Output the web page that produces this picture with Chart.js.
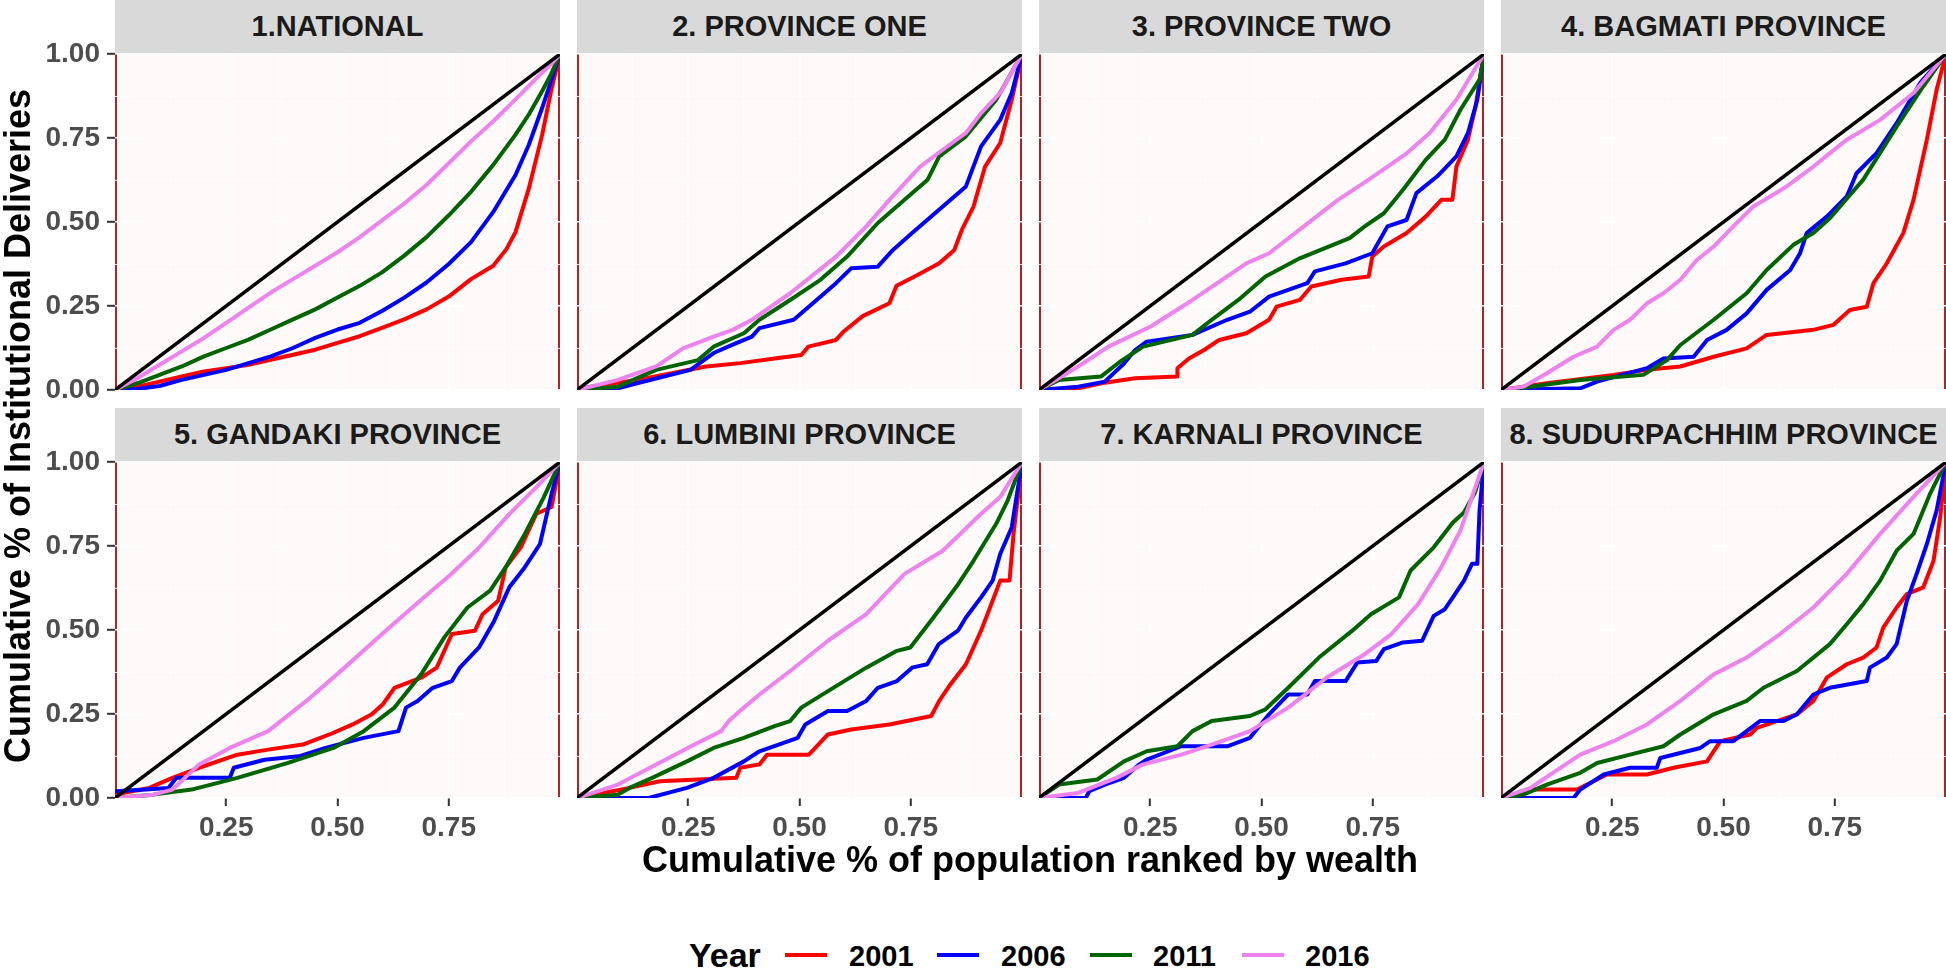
<!DOCTYPE html>
<html>
<head>
<meta charset="utf-8">
<title>Concentration curves of institutional deliveries</title>
<script src="https://cdn.jsdelivr.net/npm/chart.js@4.4.1/dist/chart.umd.min.js"></script>
<style>
html,body{margin:0;padding:0;background:#ffffff;}
body{position:relative;width:1946px;height:969px;overflow:hidden;font-family:"Liberation Sans",Arial,Helvetica,sans-serif;}
.strip{position:absolute;background:#D9D9D9;color:#1A1A1A;font-weight:bold;font-size:29px;line-height:29px;display:flex;align-items:center;justify-content:center;white-space:nowrap;}
canvas{position:absolute;}
.txt{position:absolute;font-weight:bold;color:#000;white-space:nowrap;}
.legline{position:absolute;height:4px;}
</style>
</head>
<body>
<script>
// ---------------- DATA ----------------
const panelTitles = ['1.NATIONAL','2. PROVINCE ONE','3. PROVINCE TWO','4. BAGMATI PROVINCE',
  '5. GANDAKI PROVINCE','6. LUMBINI PROVINCE','7. KARNALI PROVINCE','8. SUDURPACHHIM PROVINCE'];
const years = ['2001','2006','2011','2016'];
const yTickValues = [0, 0.25, 0.5, 0.75, 1];
const yTickLabels = ['0.00','0.25','0.50','0.75','1.00'];
const xTickValues = [0.25, 0.5, 0.75];
const xTickLabels = ['0.25','0.50','0.75'];
const equalityLine = [[0,0],[1,1]];

// [cumulative population share, cumulative share of institutional deliveries]
const national2001 = [[0,0],[0.05,0.01],[0.1,0.025],[0.15,0.04],[0.2,0.055],[0.25,0.065],[0.3,0.075],[0.35,0.09],[0.4,0.105],[0.45,0.12],[0.5,0.14],[0.55,0.16],[0.6,0.185],[0.65,0.21],[0.7,0.24],[0.75,0.278],[0.8,0.33],[0.85,0.37],[0.88,0.42],[0.9,0.47],[0.93,0.6],[0.96,0.76],[0.98,0.89],[1,1]];
const national2006 = [[0,0],[0.05,0.003],[0.1,0.012],[0.15,0.03],[0.2,0.045],[0.25,0.06],[0.3,0.08],[0.35,0.1],[0.4,0.125],[0.45,0.155],[0.5,0.18],[0.55,0.2],[0.6,0.235],[0.65,0.275],[0.7,0.32],[0.75,0.375],[0.8,0.44],[0.85,0.53],[0.9,0.64],[0.93,0.73],[0.96,0.84],[0.98,0.92],[1,1]];
const national2011 = [[0,0],[0.05,0.02],[0.1,0.045],[0.15,0.07],[0.2,0.1],[0.25,0.125],[0.3,0.15],[0.35,0.18],[0.4,0.21],[0.45,0.24],[0.5,0.275],[0.55,0.31],[0.6,0.35],[0.65,0.4],[0.7,0.455],[0.75,0.52],[0.8,0.59],[0.85,0.67],[0.9,0.76],[0.93,0.82],[0.96,0.89],[0.98,0.94],[1,1]];
const national2016 = [[0,0],[0.05,0.035],[0.1,0.075],[0.15,0.115],[0.2,0.155],[0.25,0.2],[0.3,0.245],[0.35,0.29],[0.4,0.33],[0.45,0.37],[0.5,0.41],[0.55,0.455],[0.6,0.505],[0.65,0.555],[0.7,0.61],[0.75,0.675],[0.8,0.74],[0.85,0.8],[0.9,0.865],[0.93,0.905],[0.96,0.945],[0.98,0.97],[1,1]];

const provinceOne2001 = [[0,0],[0.03,0.01],[0.135,0.03],[0.29,0.07],[0.367,0.08],[0.444,0.094],[0.504,0.104],[0.52,0.129],[0.582,0.149],[0.6,0.175],[0.642,0.22],[0.702,0.258],[0.718,0.31],[0.762,0.34],[0.814,0.377],[0.848,0.417],[0.865,0.477],[0.891,0.546],[0.917,0.665],[0.951,0.735],[0.977,0.864],[1,1]];
const provinceOne2006 = [[0,0],[0.092,0.005],[0.135,0.02],[0.255,0.06],[0.307,0.11],[0.35,0.135],[0.393,0.159],[0.41,0.184],[0.487,0.209],[0.53,0.258],[0.582,0.318],[0.616,0.362],[0.676,0.367],[0.71,0.417],[0.753,0.467],[0.822,0.546],[0.874,0.606],[0.908,0.725],[0.951,0.804],[0.977,0.884],[1,1]];
const provinceOne2011 = [[0,0],[0.092,0.01],[0.126,0.03],[0.178,0.06],[0.272,0.089],[0.307,0.129],[0.375,0.169],[0.41,0.209],[0.479,0.268],[0.547,0.328],[0.607,0.397],[0.676,0.497],[0.736,0.566],[0.788,0.626],[0.814,0.695],[0.874,0.755],[0.942,0.864],[1,1]];
const provinceOne2016 = [[0,0],[0.092,0.03],[0.135,0.05],[0.178,0.07],[0.238,0.124],[0.307,0.159],[0.35,0.179],[0.393,0.209],[0.479,0.288],[0.582,0.397],[0.65,0.487],[0.702,0.566],[0.771,0.665],[0.822,0.715],[0.874,0.765],[0.908,0.824],[0.951,0.884],[1,1]];

const provinceTwo2001 = [[0,0],[0.088,0.005],[0.14,0.02],[0.216,0.035],[0.311,0.04],[0.311,0.065],[0.337,0.094],[0.371,0.119],[0.405,0.149],[0.466,0.169],[0.517,0.209],[0.534,0.248],[0.586,0.268],[0.612,0.308],[0.68,0.328],[0.741,0.338],[0.749,0.397],[0.775,0.427],[0.826,0.467],[0.869,0.516],[0.904,0.566],[0.929,0.566],[0.938,0.665],[0.964,0.745],[0.981,0.844],[1,1]];
const provinceTwo2006 = [[0,0],[0.088,0.01],[0.148,0.025],[0.191,0.079],[0.216,0.119],[0.242,0.144],[0.345,0.164],[0.423,0.209],[0.474,0.233],[0.517,0.278],[0.603,0.318],[0.62,0.353],[0.689,0.377],[0.749,0.407],[0.783,0.487],[0.826,0.506],[0.848,0.586],[0.895,0.636],[0.938,0.695],[0.964,0.765],[0.985,0.864],[1,1]];
const provinceTwo2011 = [[0,0],[0.045,0.03],[0.139,0.04],[0.182,0.084],[0.234,0.129],[0.345,0.164],[0.388,0.209],[0.448,0.268],[0.509,0.338],[0.586,0.392],[0.698,0.452],[0.732,0.487],[0.775,0.526],[0.818,0.596],[0.869,0.685],[0.912,0.745],[0.947,0.834],[0.99,0.924],[1,1]];
const provinceTwo2016 = [[0,0],[0.088,0.07],[0.156,0.129],[0.251,0.189],[0.345,0.268],[0.466,0.377],[0.517,0.407],[0.595,0.487],[0.672,0.566],[0.741,0.626],[0.827,0.705],[0.878,0.765],[0.938,0.864],[1,1]];

const bagmati2001 = [[0,0],[0.103,0.02],[0.253,0.045],[0.328,0.06],[0.403,0.07],[0.478,0.099],[0.552,0.124],[0.597,0.164],[0.702,0.179],[0.747,0.194],[0.784,0.238],[0.822,0.248],[0.837,0.318],[0.867,0.377],[0.904,0.467],[0.927,0.566],[0.957,0.745],[0.979,0.894],[1,1]];
const bagmati2006 = [[0,0],[0.178,0.005],[0.216,0.025],[0.328,0.065],[0.365,0.094],[0.433,0.099],[0.463,0.149],[0.507,0.179],[0.552,0.228],[0.597,0.298],[0.65,0.357],[0.672,0.407],[0.687,0.467],[0.732,0.516],[0.777,0.576],[0.799,0.645],[0.844,0.705],[0.889,0.794],[0.942,0.914],[1,1]];
const bagmati2011 = [[0,0],[0.066,0.01],[0.178,0.03],[0.32,0.045],[0.373,0.089],[0.403,0.134],[0.478,0.209],[0.552,0.288],[0.597,0.357],[0.657,0.432],[0.702,0.467],[0.739,0.511],[0.814,0.626],[0.889,0.784],[0.949,0.904],[1,1]];
const bagmati2016 = [[0,0],[0.051,0.01],[0.103,0.05],[0.163,0.099],[0.216,0.129],[0.253,0.179],[0.29,0.209],[0.328,0.258],[0.365,0.288],[0.403,0.328],[0.44,0.387],[0.478,0.427],[0.522,0.487],[0.567,0.546],[0.605,0.576],[0.642,0.606],[0.702,0.665],[0.777,0.745],[0.852,0.804],[0.927,0.884],[1,1]];

const gandaki2001 = [[0,0.01],[0.077,0.03],[0.129,0.06],[0.189,0.09],[0.275,0.129],[0.344,0.144],[0.422,0.159],[0.482,0.189],[0.534,0.219],[0.577,0.249],[0.602,0.279],[0.628,0.328],[0.688,0.358],[0.723,0.388],[0.757,0.488],[0.809,0.498],[0.826,0.547],[0.861,0.587],[0.878,0.687],[0.912,0.746],[0.947,0.846],[0.981,0.866],[1,1]];
const gandaki2006 = [[0,0.02],[0.069,0.025],[0.12,0.03],[0.138,0.06],[0.258,0.06],[0.267,0.09],[0.336,0.114],[0.413,0.124],[0.473,0.149],[0.559,0.179],[0.637,0.199],[0.654,0.269],[0.68,0.289],[0.714,0.328],[0.757,0.348],[0.775,0.388],[0.818,0.448],[0.852,0.527],[0.886,0.627],[0.921,0.687],[0.955,0.756],[0.981,0.905],[1,1]];
const gandaki2011 = [[0,0],[0.086,0.01],[0.172,0.025],[0.275,0.06],[0.387,0.104],[0.491,0.149],[0.559,0.199],[0.628,0.269],[0.688,0.368],[0.74,0.478],[0.792,0.567],[0.843,0.617],[0.878,0.687],[0.921,0.786],[0.964,0.896],[1,1]];
const gandaki2016 = [[0,0],[0.086,0.01],[0.129,0.025],[0.189,0.1],[0.258,0.149],[0.344,0.199],[0.43,0.289],[0.516,0.388],[0.602,0.49],[0.688,0.59],[0.75,0.66],[0.818,0.745],[0.886,0.845],[0.947,0.925],[1,1]];

const lumbini2001 = [[0,0],[0.118,0.03],[0.186,0.05],[0.358,0.06],[0.367,0.09],[0.41,0.1],[0.427,0.129],[0.521,0.129],[0.564,0.189],[0.616,0.204],[0.702,0.219],[0.796,0.244],[0.814,0.289],[0.839,0.338],[0.874,0.398],[0.908,0.498],[0.934,0.587],[0.951,0.647],[0.972,0.647],[0.981,0.786],[1,1]];
const lumbini2006 = [[0,0],[0.161,0],[0.247,0.03],[0.307,0.06],[0.375,0.109],[0.41,0.139],[0.496,0.179],[0.513,0.219],[0.564,0.259],[0.607,0.259],[0.65,0.289],[0.676,0.328],[0.719,0.348],[0.753,0.388],[0.787,0.398],[0.813,0.458],[0.856,0.498],[0.874,0.537],[0.908,0.597],[0.934,0.647],[0.951,0.726],[0.977,0.806],[1,1]];
const lumbini2011 = [[0,0],[0.092,0.01],[0.118,0.03],[0.169,0.06],[0.247,0.109],[0.307,0.149],[0.375,0.179],[0.444,0.214],[0.479,0.229],[0.504,0.269],[0.564,0.318],[0.65,0.388],[0.719,0.438],[0.749,0.448],[0.801,0.537],[0.857,0.637],[0.891,0.706],[0.942,0.816],[0.968,0.886],[1,1]];
const lumbini2016 = [[0,0],[0.092,0.04],[0.178,0.1],[0.264,0.159],[0.324,0.199],[0.341,0.229],[0.375,0.269],[0.41,0.308],[0.479,0.378],[0.564,0.468],[0.65,0.547],[0.736,0.667],[0.822,0.736],[0.908,0.846],[0.951,0.896],[1,1]];

const karnali2001 = [];
const karnali2006 = [[0,0],[0.105,0],[0.113,0.02],[0.148,0.04],[0.191,0.06],[0.225,0.1],[0.242,0.114],[0.32,0.154],[0.423,0.154],[0.474,0.179],[0.517,0.249],[0.56,0.308],[0.603,0.308],[0.62,0.348],[0.689,0.348],[0.715,0.403],[0.758,0.408],[0.775,0.443],[0.818,0.463],[0.861,0.468],[0.887,0.542],[0.912,0.562],[0.93,0.597],[0.955,0.647],[0.973,0.697],[0.985,0.697],[0.99,0.856],[1,1]];
const karnali2011 = [[0,0],[0.045,0.04],[0.131,0.055],[0.191,0.109],[0.242,0.139],[0.311,0.154],[0.345,0.199],[0.388,0.229],[0.474,0.244],[0.509,0.264],[0.56,0.328],[0.629,0.418],[0.704,0.498],[0.746,0.547],[0.809,0.597],[0.835,0.677],[0.887,0.746],[0.93,0.82],[0.955,0.85],[0.98,0.91],[1,1]];
const karnali2016 = [[0,0],[0.088,0.015],[0.174,0.06],[0.234,0.1],[0.32,0.129],[0.388,0.159],[0.474,0.199],[0.56,0.269],[0.646,0.358],[0.732,0.428],[0.792,0.488],[0.852,0.577],[0.904,0.687],[0.947,0.796],[1,1]];

const sudurpachhim2001 = [[0,0],[0.028,0.01],[0.073,0.025],[0.171,0.025],[0.208,0.05],[0.238,0.07],[0.328,0.07],[0.388,0.09],[0.463,0.109],[0.493,0.169],[0.56,0.189],[0.575,0.209],[0.665,0.249],[0.702,0.289],[0.732,0.358],[0.777,0.398],[0.814,0.418],[0.844,0.448],[0.859,0.507],[0.889,0.567],[0.912,0.607],[0.949,0.627],[0.972,0.706],[0.987,0.836],[1,1]];
const sudurpachhim2006 = [[0,0],[0.163,0],[0.178,0.025],[0.231,0.07],[0.29,0.09],[0.35,0.09],[0.358,0.119],[0.448,0.149],[0.47,0.169],[0.522,0.169],[0.582,0.229],[0.635,0.229],[0.665,0.249],[0.702,0.308],[0.739,0.328],[0.822,0.348],[0.829,0.388],[0.867,0.418],[0.889,0.458],[0.912,0.587],[0.934,0.667],[0.957,0.756],[0.979,0.856],[1,1]];
const sudurpachhim2011 = [[0,0],[0.05,0.01],[0.103,0.04],[0.178,0.075],[0.216,0.104],[0.29,0.129],[0.365,0.154],[0.403,0.189],[0.478,0.249],[0.552,0.289],[0.59,0.328],[0.665,0.378],[0.739,0.458],[0.777,0.517],[0.814,0.577],[0.852,0.647],[0.889,0.736],[0.927,0.786],[0.964,0.905],[1,1]];
const sudurpachhim2016 = [[0,0],[0.066,0.03],[0.178,0.129],[0.253,0.169],[0.328,0.219],[0.403,0.289],[0.478,0.368],[0.552,0.418],[0.627,0.488],[0.702,0.567],[0.777,0.667],[0.852,0.786],[0.927,0.896],[1,1]];

const panelSeries = [
  [national2001, national2006, national2011, national2016],
  [provinceOne2001, provinceOne2006, provinceOne2011, provinceOne2016],
  [provinceTwo2001, provinceTwo2006, provinceTwo2011, provinceTwo2016],
  [bagmati2001, bagmati2006, bagmati2011, bagmati2016],
  [gandaki2001, gandaki2006, gandaki2011, gandaki2016],
  [lumbini2001, lumbini2006, lumbini2011, lumbini2016],
  [karnali2001, karnali2006, karnali2011, karnali2016],
  [sudurpachhim2001, sudurpachhim2006, sudurpachhim2011, sudurpachhim2016]
];

// ---------------- STYLE / LAYOUT ----------------
const yearColors = ['#FF0000','#0000FF','#006400','#EE82EE'];
const PLOT_LEFT = [115, 577, 1039, 1501];
const PLOT_TOP = [54, 462];
const PLOT_W = 445, PLOT_H = 336, STRIP_H = 53;
const FONT = '"Liberation Sans", Arial, Helvetica, sans-serif';

function near(a, b) { return Math.abs(a - b) < 1e-6; }
function labelFor(v, values, labels) {
  for (let i = 0; i < values.length; i++) if (near(v, values[i])) return labels[i];
  return '';
}
function isMajor(v) { return near(v * 4, Math.round(v * 4)); }
function gridColor(c, isX) {
  if (!c.tick) return 'rgba(0,0,0,0)';
  const v = c.tick.value;
  if (isX && (near(v, 0) || near(v, 1))) return 'rgba(0,0,0,0)';
  return '#FFFFFF';
}
function gridWidth(c) { return (c.tick && isMajor(c.tick.value)) ? 1.6 : 0.8; }

const panelBackground = {
  id: 'panelBackground',
  beforeDraw(chart) {
    const a = chart.chartArea, ctx = chart.ctx, xs = chart.scales.x;
    ctx.save();
    ctx.fillStyle = '#FFFAFA';
    ctx.fillRect(a.left, a.top, a.right - a.left, a.bottom - a.top);
    ctx.strokeStyle = '#B22222';
    ctx.lineWidth = 2;
    [0, 1].forEach(v => {
      let px = xs.getPixelForValue(v);
      px = Math.min(Math.max(px, a.left + 1), a.right - 1);
      ctx.beginPath(); ctx.moveTo(px, a.top); ctx.lineTo(px, a.bottom); ctx.stroke();
    });
    ctx.restore();
  }
};

panelSeries.forEach((series, p) => {
  const row = Math.floor(p / 4), col = p % 4;
  const padL = col === 0 ? 115 : 20, padR = 20, padT = 32, padB = row === 1 ? 62 : 32;
  const W = padL + PLOT_W + padR, H = padT + PLOT_H + padB;

  const strip = document.createElement('div');
  strip.className = 'strip';
  strip.style.left = PLOT_LEFT[col] + 'px';
  strip.style.top = (PLOT_TOP[row] - STRIP_H - 1) + 'px';
  strip.style.width = PLOT_W + 'px';
  strip.style.height = STRIP_H + 'px';
  strip.textContent = panelTitles[p];
  document.body.appendChild(strip);

  const canvas = document.createElement('canvas');
  canvas.width = W; canvas.height = H;
  canvas.style.width = W + 'px'; canvas.style.height = H + 'px';
  canvas.style.left = (PLOT_LEFT[col] - padL) + 'px';
  canvas.style.top = (PLOT_TOP[row] - padT) + 'px';
  document.body.appendChild(canvas);

  const datasets = [{
    label: 'Equality', data: equalityLine.map(([x, y]) => ({x, y})),
    borderColor: '#000000', borderWidth: 3.4, order: 0
  }];
  series.forEach((pts, i) => {
    datasets.push({
      label: years[i], data: pts.map(([x, y]) => ({x, y})),
      borderColor: yearColors[i], borderWidth: 4, order: 4 - i
    });
  });

  new Chart(canvas, {
    type: 'line',
    data: { datasets },
    options: {
      responsive: false, animation: false, devicePixelRatio: 1, events: [],
      elements: {
        point: { radius: 0, hoverRadius: 0 },
        line: { tension: 0, fill: false, borderJoinStyle: 'round', borderCapStyle: 'butt' }
      },
      layout: {
        autoPadding: false,
        padding: { left: col === 0 ? 0 : padL, right: padR, top: padT, bottom: row === 1 ? 0 : padB }
      },
      plugins: { legend: { display: false }, tooltip: { enabled: false }, title: { display: false } },
      scales: {
        x: {
          type: 'linear', min: 0, max: 1, border: { display: false },
          afterFit: s => { s.height = row === 1 ? padB : 0; },
          ticks: {
            display: row === 1, stepSize: 0.125, autoSkip: false, maxRotation: 0, minRotation: 0,
            padding: 5, color: '#4D4D4D', font: { family: FONT, size: 28, weight: 'bold' },
            callback: v => labelFor(v, xTickValues, xTickLabels)
          },
          grid: {
            drawTicks: row === 1, tickLength: 8, tickWidth: 2,
            color: c => gridColor(c, true), lineWidth: c => gridWidth(c),
            tickColor: c => (c.tick && labelFor(c.tick.value, xTickValues, xTickLabels)) ? '#333333' : 'rgba(0,0,0,0)'
          }
        },
        y: {
          type: 'linear', min: 0, max: 1, border: { display: false },
          afterFit: s => { s.width = col === 0 ? padL : 0; },
          ticks: {
            display: col === 0, stepSize: 0.125, autoSkip: false,
            padding: 7, color: '#4D4D4D', font: { family: FONT, size: 28, weight: 'bold' },
            callback: v => labelFor(v, yTickValues, yTickLabels)
          },
          grid: {
            drawTicks: col === 0, tickLength: 8, tickWidth: 2,
            color: c => gridColor(c, false), lineWidth: c => gridWidth(c),
            tickColor: c => (c.tick && labelFor(c.tick.value, yTickValues, yTickLabels)) ? '#333333' : 'rgba(0,0,0,0)'
          }
        }
      }
    },
    plugins: [panelBackground]
  });
});

// ---------------- AXIS TITLES ----------------
function addText(text, css) {
  const d = document.createElement('div');
  d.className = 'txt';
  d.textContent = text;
  Object.assign(d.style, css);
  document.body.appendChild(d);
  return d;
}
addText('Cumulative % of population ranked by wealth', {
  left: '530px', width: '1000px', top: '842px', textAlign: 'center',
  fontSize: '36px', lineHeight: '36px'
});
addText('Cumulative % of Institutional Deliveries', {
  left: (18 - 450) + 'px', top: (426 - 18) + 'px', width: '900px', height: '36px',
  textAlign: 'center', fontSize: '36px', lineHeight: '36px', transform: 'rotate(-90deg)',
  transformOrigin: '50% 50%'
});

// ---------------- LEGEND ----------------
addText('Year', { left: '689px', top: '938px', fontSize: '34px', lineHeight: '34px' });
const legendLineLeft = [785, 937, 1090, 1242];
const legendTextLeft = [849, 1001, 1153, 1305];
years.forEach((y, i) => {
  const l = document.createElement('div');
  l.className = 'legline';
  l.style.left = legendLineLeft[i] + 'px';
  l.style.top = '953px';
  l.style.width = '42px';
  l.style.background = yearColors[i];
  document.body.appendChild(l);
  addText(y, { left: legendTextLeft[i] + 'px', top: '942px', fontSize: '29px', lineHeight: '29px' });
});
</script>
</body>
</html>
